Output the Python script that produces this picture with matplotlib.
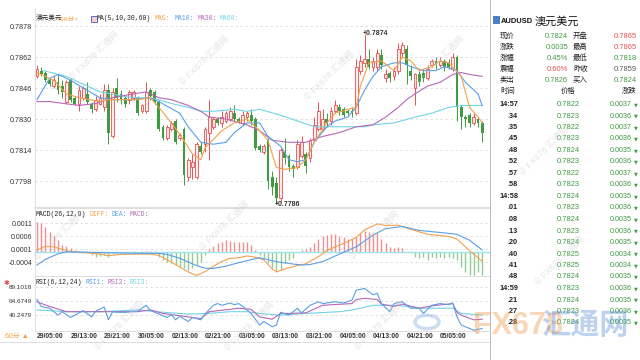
import numpy as np
import matplotlib
matplotlib.use('Agg')
import matplotlib.pyplot as plt
from matplotlib.patches import Rectangle, Circle

plt.rcParams['font.family'] = ['Liberation Sans', 'Noto Sans CJK SC', 'DejaVu Sans']

# ---- candles (60 min AUDUSD) ----
opens = [.7852, .7855, .7854, .7850, .7847, .7849, .7847, .7839, .7850, .7841,
         .7838, .7841, .7843, .7838, .7835, .7838, .7836, .7845, .7821, .7846,
         .7843, .7841, .7840, .7841, .7841, .7834, .7834, .7845, .7844, .7839,
         .7826, .7820, .7825, .7829, .7820, .7825, .7800, .7805, .7800, .7816,
         .7817, .7823, .7826, .7830, .7828, .7829, .7830, .7833, .7830, .7828,
         .7831, .7832, .7830, .7816, .7813, .7819, .7800, .7797, .7789, .7813,
         .7811, .7806, .7805, .7811, .7812, .7810, .7819, .7825, .7825, .7830,
         .7829, .7834, .7836, .7835, .7834, .7834, .7833, .7855, .7859, .7861,
         .7857, .7857, .7863, .7851, .7854, .7852, .7855, .7864, .7866, .7855,
         .7846, .7853, .7854, .7851, .7858, .7860, .7858, .7860, .7859, .7856,
         .7862, .7836, .7831, .7832, .7828, .7830, .7828]
highs = [.7858, .7857, .7855, .7851, .7852, .7853, .7850, .7850, .7851, .7842,
         .7847, .7847, .7849, .7839, .7842, .7843, .7848, .7848, .7846, .7851,
         .7845, .7842, .7845, .7845, .7842, .7838, .7849, .7846, .7845, .7840,
         .7827, .7827, .7829, .7830, .7823, .7826, .7810, .7812, .7818, .7818,
         .7826, .7840, .7831, .7831, .7834, .7834, .7836, .7837, .7831, .7834,
         .7834, .7835, .7831, .7817, .7817, .7820, .7803, .7800, .7815, .7820,
         .7812, .7807, .7819, .7821, .7813, .7820, .7831, .7839, .7835, .7833,
         .7836, .7840, .7838, .7836, .7835, .7836, .7861, .7863, .7874, .7866,
         .7862, .7866, .7866, .7856, .7855, .7857, .7869, .7870, .7868, .7858,
         .7854, .7855, .7856, .7858, .7861, .7862, .7862, .7861, .7861, .7864,
         .7863, .7837, .7832, .7833, .7833, .7831, .7829]
lows = [.7851, .7852, .7849, .7847, .7846, .7843, .7841, .7838, .7839, .7837,
        .7834, .7840, .7838, .7833, .7834, .7837, .7834, .7817, .7820, .7839,
        .7838, .7836, .7838, .7840, .7832, .7833, .7833, .7840, .7838, .7824,
        .7819, .7819, .7824, .7817, .7819, .7796, .7798, .7799, .7799, .7812,
        .7813, .7809, .7825, .7827, .7826, .7828, .7829, .7829, .7828, .7827,
        .7829, .7827, .7814, .7813, .7812, .7794, .7791, .7786, .7787, .7807,
        .7803, .7800, .7804, .7810, .7802, .7808, .7818, .7824, .7824, .7826,
        .7827, .7833, .7832, .7831, .7832, .7831, .7832, .7853, .7857, .7856,
        .7855, .7855, .7856, .7849, .7849, .7850, .7853, .7862, .7848, .7850,
        .7837, .7847, .7849, .7850, .7857, .7856, .7857, .7855, .7856, .7855,
        .7829, .7825, .7826, .7826, .7827, .7826, .7818]
closes = [.7856, .7853, .7850, .7848, .7850, .7845, .7844, .7849, .7840, .7838,
          .7845, .7846, .7839, .7835, .7840, .7841, .7845, .7823, .7844, .7841,
          .7840, .7838, .7844, .7844, .7833, .7837, .7844, .7842, .7839, .7825,
          .7820, .7826, .7828, .7818, .7822, .7801, .7809, .7808, .7817, .7813,
          .7825, .7831, .7830, .7828, .7831, .7833, .7834, .7830, .7829, .7832,
          .7833, .7829, .7815, .7814, .7816, .7798, .7795, .7789, .7814, .7810,
          .7805, .7804, .7817, .7818, .7806, .7819, .7827, .7834, .7830, .7828,
          .7834, .7837, .7834, .7832, .7833, .7833, .7857, .7860, .7861, .7857,
          .7860, .7864, .7858, .7853, .7851, .7855, .7866, .7868, .7858, .7852,
          .7853, .7849, .7851, .7856, .7860, .7858, .7860, .7857, .7857, .7862,
          .7836, .7831, .7830, .7828, .7831, .7828, .7823]

# moving averages (candle index, value)
ma5_x = [0, 4, 7, 10, 15, 17, 20, 24, 27, 29, 32, 34, 37, 39, 40, 44, 47, 50, 53, 55,
         57, 59, 62, 64, 66, 69, 71, 74, 76, 77, 79, 82, 85, 87, 89, 91, 94, 96, 98,
         101, 103, 105, 106]
ma5_y = [.7854, .7850, .7843, .7841, .7839, .7840, .7840, .7840, .7841, .7836, .7828,
         .7822, .7812, .7809, .7815, .7824, .7828, .7830, .7824, .7819, .7805, .7804,
         .7805, .7809, .7818, .7828, .7833, .7835, .7836, .7847, .7859, .7860, .7855,
         .7862, .7860, .7855, .7857, .7860, .7859, .7852, .7836, .7831, .7828]
ma10_x = [0, 3, 5, 8, 11, 15, 18, 23, 27, 29, 34, 36, 39, 42, 45, 47, 50, 53, 55, 58,
          60, 62, 64, 66, 69, 71, 74, 76, 78, 80, 82, 85, 87, 89, 92, 95, 97, 100,
          102, 105, 106]
ma10_y = [.7840, .7851, .7853, .7850, .7846, .7841, .7840, .7840, .7841, .7839, .7833,
          .7826, .7818, .7817, .7818, .7823, .7828, .7828, .7821, .7816, .7809, .7808,
          .7809, .7818, .7826, .7829, .7831, .7836, .7845, .7852, .7857, .7859, .7859,
          .7857, .7855, .7855, .7857, .7855, .7849, .7843, .7837]
ma30_x = [0, 3, 10, 14, 18, 23, 26, 29, 32, 36, 39, 41, 45, 50, 53, 56, 60, 64, 68,
          72, 76, 80, 83, 86, 88, 90, 93, 96, 99, 101, 103, 106]
ma30_y = [.7839, .7839, .7837, .7838, .7841, .7843, .7844, .7841, .7840, .7837, .7834,
          .7831, .7830, .7827, .7824, .7819, .7818, .7818, .7821, .7823, .7826, .7827,
          .7831, .7836, .7840, .7843, .7847, .7849, .7853, .7854, .7853, .7852]
ma60_x = [1.5, 7, 11, 15, 20, 23, 26, 29, 32, 36, 39, 42, 47, 50, 53, 58, 62, 66, 70,
          74, 78, 80, 85, 90, 94, 98, 101, 106]
ma60_y = [.7855, .7852, .7848, .7844, .7842, .7841, .7841, .7840, .7838, .7836, .7834,
          .7834, .7835, .7834, .7835, .7832, .7829, .7826, .7826, .7826, .7826, .7827,
          .7828, .7831, .7833, .7836, .7837, .7837]

# MACD (units of 0.0001)
macd_hist = [11.6, 11.0, 9.7, 7.8, 6.1, 4.6, 2.7, 2.3, 1.4, 0.8,
             0.5, 0.5, 0.3, -1.2, -1.8, -1.5, -1.2, -1.8, -0.5, -0.3,
             -0.1, -0.3, -0.1, 0.3, 0.1, 0.4, 0.5, 0.5, 0.4, -1.8,
             -3.1, -3.7, -4.4, -5.0, -5.4, -6.3, -6.9, -6.3, -5.0, -3.7,
             -1.2, 1.0, 2.3, 3.3, 4.0, 4.6, 4.4, 4.0, 3.8, 4.0,
             4.0, 2.7, 0.8, -1.2, -2.4, -4.4, -6.3, -7.6, -6.9, -4.4,
             -3.1, -2.4, 0.1, 0.8, 1.0, 2.0, 3.6, 4.9, 6.1, 6.5,
             6.9, 6.9, 6.1, 5.6, 4.9, 4.9, 5.6, 7.4, 8.2, 7.8,
             7.2, 7.2, 4.9, 3.3, 2.0, 1.4, 1.8, 1.4, -0.1, -0.5,
             -1.8, -2.4, -1.8, -3.1, -1.8, -2.4, -1.8, -2.4, -1.8, -2.4,
             -3.1, -5.6, -7.6, -8.8, -8.8, -7.6, -8.8]
dif_x = [0, 2, 4, 6, 8, 10, 12, 15, 17, 20, 24, 27, 29, 31, 33, 36, 38, 40, 42, 44,
         46, 48, 50, 52, 54, 56, 57, 60, 62, 64, 67, 69, 71, 73, 76, 78, 81, 83, 86,
         89, 93, 98, 100, 103, 105, 106]
dif_y = [0.8, 2.2, 2.0, 1.0, 0.2, -0.1, -0.3, -0.8, -1.4, -0.9, -0.8, -0.8, -1.3,
         -3.0, -4.8, -7.6, -9.0, -7.5, -5.5, -3.6, -2.4, -2.2, -1.5, -2.0, -3.0,
         -6.5, -7.6, -6.0, -5.2, -4.5, -1.8, 0.5, 2.0, 3.3, 5.6, 8.5, 10.8, 10.2,
         10.3, 8.7, 6.8, 6.0, 5.0, 0.5, -2.2, -3.6]
dea_x = [0, 2, 5, 7, 12, 18, 24, 29, 31, 34, 38, 40, 42, 45, 48, 50, 53, 57, 60, 63,
         65, 68, 72, 76, 80, 83, 87, 91, 96, 100, 103, 106]
dea_y = [-5.0, -2.8, -0.7, 0.1, -0.1, -0.3, -0.5, -0.5, -0.9, -2.4, -5.2, -6.2,
         -6.3, -5.4, -4.1, -3.3, -2.2, -3.7, -4.4, -5.0, -4.8, -3.7, -0.8, 2.0, 6.5,
         9.0, 9.8, 8.3, 7.5, 6.8, 4.5, 0.8]

# RSI(6,12,24)
rsi1_x = [0, 1, 3, 5, 6, 8, 10, 11, 13, 14, 16, 17, 18, 19, 21, 24, 26, 27, 29, 31,
          32, 33, 34, 36, 37, 39, 40, 42, 43, 44, 46, 47, 48, 49, 51, 53, 54, 56, 57,
          58, 60, 62, 63, 65, 67, 68, 71, 73, 75, 76, 78, 80, 81, 82, 84, 85, 87, 89,
          91, 92, 94, 96, 98, 99, 100, 101, 104, 106]
rsi1_y = [67, 55, 52, 40, 46, 36, 44, 48, 37, 47, 54, 32, 46, 45, 45, 47, 57, 48, 42,
          36, 41, 32, 38, 29, 36, 32, 42, 57, 60, 57, 61, 58, 60, 55, 43, 23, 29, 20,
          23, 45, 40, 52, 44, 57, 63, 60, 63, 61, 66, 83, 86, 75, 78, 60, 46, 60, 63,
          52, 52, 43, 57, 60, 58, 61, 37, 23, 14, 17]
rsi2_x = [0, 3, 7, 11, 15, 18, 24, 27, 30, 33, 36, 39, 41, 46, 48, 51, 53, 56, 58, 60,
          64, 68, 75, 76, 78, 81, 82, 85, 87, 91, 94, 99, 100, 101, 104, 106]
rsi2_y = [63, 55, 46, 46, 46, 46, 46, 49, 43, 40, 37, 34, 46, 50, 52, 50, 37, 33, 43,
          43, 44, 57, 60, 67, 69, 67, 59, 55, 59, 52, 56, 60, 45, 40, 32, 33]
rsi3_x = [0, 7, 15, 24, 30, 36, 41, 46, 50, 53, 58, 64, 72, 75, 77, 80, 86, 91, 99,
          101, 106]
rsi3_y = [49, 46, 46, 49, 45, 42, 43, 46, 46, 43, 40, 43, 46, 49, 52, 57, 57, 52, 52,
          43, 40]

time_labels = ['29/05:00', '29/13:00', '29/21:00', '30/05:00', '02/13:00', '02/21:00',
               '03/05:00', '03/13:00', '03/21:00', '04/05:00', '04/13:00', '04/21:00',
               '05/05:00']
price_ticks = [0.7878, 0.7862, 0.7846, 0.7830, 0.7814, 0.7798]
macd_ticks = [11, 6, 1, -4]
rsi_ticks = [89.1018, 64.6749, 40.2479]

quote_rows = [('现价', '0.7824', '开盘', '0.7865'),
              ('涨跌', '0.0035', '最高', '0.7865'),
              ('涨幅', '0.45%', '最低', '0.7818'),
              ('震幅', '0.60%', '昨收', '0.7859'),
              ('卖出', '0.7826', '买入', '0.7824')]
tick_times = ['14:57', '.34', '.35', '.45', '.48', '.52', '.57', '.58', '14:58', '.01',
              '.08', '.13', '.20', '.40', '.41', '.48', '14:59', '.21', '.27', '.28']
tick_prices = ['0.7822', '0.7823', '0.7822', '0.7823', '0.7824', '0.7823', '0.7822',
               '0.7823', '0.7824', '0.7823', '0.7824', '0.7823', '0.7824', '0.7825',
               '0.7825', '0.7824', '0.7823', '0.7824', '0.7823', '0.7824']
tick_chg = ['0.0037', '0.0036', '0.0037', '0.0036', '0.0035', '0.0036', '0.0037',
            '0.0036', '0.0035', '0.0036', '0.0035', '0.0036', '0.0035', '0.0034',
            '0.0034', '0.0035', '0.0036', '0.0035', '0.0036', '0.0035']

RED = '#e8504f'
GREEN = '#3f9b3f'
C_MA5 = '#f4a04c'
C_MA10 = '#5a9fe6'
C_MA30 = '#b867b8'
C_MA60 = '#72d3e6'
GRID = '#dcdcdc'
W, H = 640, 360
XL = (-0.476, 107.86)

fig = plt.figure(figsize=(6.4, 3.6), dpi=100)


def box(x0, y0, x1, y1):
    return [x0 / W, 1 - y1 / H, (x1 - x0) / W, (y1 - y0) / H]


def ftext(x, y, s, **kw):
    kw.setdefault('va', 'center')
    fig.text(x / W, 1 - y / H, s, **kw)


def style(ax, ticks, labels, fs):
    ax.set_xlim(*XL)
    ax.set_xticks([])
    ax.set_yticks(ticks)
    ax.set_yticklabels(labels, fontsize=fs, color='#333333')
    ax.tick_params(axis='y', length=0, pad=2)
    for t in ticks:
        ax.axhline(t, color=GRID, lw=0.6, ls=(0, (3, 3)), zorder=0)
    for s in ax.spines.values():
        s.set_color('#d8d8d8')
        s.set_linewidth(0.6)
    ax.spines['right'].set_visible(False)


# ---- main candle panel ----
ax = fig.add_axes(box(35, 8, 490, 207))
ax.set_ylim(0.77846, 0.78873)
style(ax, price_ticks, ['%.4f' % p for p in price_ticks], 5.2)
ax.spines['top'].set_visible(False)

o, h, l, c = (np.array(a) for a in (opens, highs, lows, closes))
idx = np.arange(len(o))
up = c >= o
ax.vlines(idx, l, h, colors=np.where(up, RED, GREEN), lw=0.7, zorder=2)
lo = np.minimum(o, c)
hh = np.maximum(np.abs(c - o), 0.00002)
ax.bar(idx[up], hh[up], 0.7, bottom=lo[up], facecolor='#fdeaea', edgecolor=RED,
       linewidth=0.6, zorder=3)
ax.bar(idx[~up], hh[~up], 0.7, bottom=lo[~up], color=GREEN, linewidth=0, zorder=3)

for xs, ys, col in ((ma60_x, ma60_y, C_MA60), (ma30_x, ma30_y, C_MA30),
                    (ma10_x, ma10_y, C_MA10), (ma5_x, ma5_y, C_MA5)):
    ax.plot(xs, ys, color=col, lw=0.8, zorder=4)

imax = int(np.argmax(h))
imin = int(np.argmin(l))
ax.text(imax - 0.4, h[imax], '+%.4f' % h[imax], fontsize=5, fontweight='bold',
        color='#333333', va='center', ha='left', zorder=5)
ax.text(imin - 0.4, l[imin], '+%.4f' % l[imin], fontsize=5, fontweight='bold',
        color='#333333', va='center', ha='left', zorder=5)

mono = ['Liberation Mono', 'Noto Sans CJK SC']
ftext(36, 19, '澳元美元', fontsize=4.8, family=mono, color='#222222')
ftext(57, 19, '<60分>', fontsize=4.6, family=mono, color='#f0a040')
fig.patches.append(Rectangle((91 / W, 1 - 22 / H), 6 / W, 6 / H, transform=fig.transFigure,
                             facecolor='#f6d0d0', edgecolor='#4060c0', lw=0.6))
ftext(97, 19, 'MA(5,10,30,60)', fontsize=4.7, family=mono, color='#222222')
ftext(155, 19, 'MA5:', fontsize=4.7, family=mono, color=C_MA5)
ftext(175, 19, 'MA10:', fontsize=4.7, family=mono, color=C_MA10)
ftext(198, 19, 'MA30:', fontsize=4.7, family=mono, color=C_MA30)
ftext(220, 19, 'MA60:', fontsize=4.7, family=mono, color=C_MA60)

# ---- MACD panel ----
axm = fig.add_axes(box(35, 208, 490, 276))
axm.set_ylim(-9.2, 16.9)
style(axm, macd_ticks, ['%.4f' % (t / 1e4) for t in macd_ticks], 5)
mh = np.array(macd_hist)
axm.vlines(idx, 0, mh, colors=np.where(mh >= 0, '#ef8f8f', '#93cd93'), lw=1.0, zorder=2)
axm.axhline(0, color='#9fe3ef', lw=1.0, zorder=3)
axm.plot(dif_x, dif_y, color=C_MA5, lw=0.8, zorder=4)
axm.plot(dea_x, dea_y, color=C_MA10, lw=0.8, zorder=4)
ftext(36, 215, 'MACD(26,12,9)', fontsize=4.7, family=mono, color='#222222')
ftext(89, 215, 'DIFF:', fontsize=4.7, family=mono, color=C_MA5)
ftext(111, 215, 'DEA:', fontsize=4.7, family=mono, color=C_MA10)
ftext(130, 215, 'MACD:', fontsize=4.7, family=mono, color=C_MA30)

# ---- RSI panel ----
axr = fig.add_axes(box(35, 276, 490, 331))
axr.set_ylim(12.7, 107.5)
style(axr, rsi_ticks, ['%.4f' % t for t in rsi_ticks], 4.6)
axr.plot(rsi3_x, rsi3_y, color=C_MA60, lw=0.8)
axr.plot(rsi2_x, rsi2_y, color=C_MA30, lw=0.8)
axr.plot(rsi1_x, rsi1_y, color=C_MA10, lw=0.8)
ftext(36, 282, 'RSI(6,12,24)', fontsize=4.7, family=mono, color='#222222')
ftext(85, 282, 'RSI1:', fontsize=4.7, family=mono, color=C_MA10)
ftext(107, 282, 'RSI2:', fontsize=4.7, family=mono, color=C_MA30)
ftext(129, 282, 'RSI3:', fontsize=4.7, family=mono, color=C_MA60)
ftext(4, 283, '✱', fontsize=5, color='#e04040', family=['DejaVu Sans'])

# ---- time axis row ----
axt = fig.add_axes(box(35, 331, 490, 342))
axt.set_xlim(*XL)
axt.set_ylim(0, 1)
axt.axis('off')
for k, lab in enumerate(time_labels):
    axt.text(k * 8, 0.5, lab, fontsize=4.9, fontweight='bold', color='#333333',
             ha='left', va='center')
fig.add_artist(plt.Line2D([0, 490 / W], [1 - 342 / H] * 2, color='#d8d8d8', lw=0.6))
ftext(5, 336.5, '60分 ▲', fontsize=5, color='#f0a040')

# ---- quote panel on the right ----
fig.add_artist(plt.Line2D([490 / W] * 2, [0, 1], color='#bbbbbb', lw=0.7))
fig.patches.append(Rectangle((493 / W, 1 - 23 / H), 6 / W, 7 / H, transform=fig.transFigure,
                             facecolor='#4a7fd0', edgecolor='#2a5fb0', lw=0.5))
ftext(501, 21.5, 'AUDUSD', fontsize=5.4, fontweight='bold', color='#111111')
ftext(535, 21, '澳元美元', fontsize=8, color='#111111')

val1_col = [GREEN, GREEN, GREEN, RED, GREEN]
val2_col = [RED, RED, GREEN, '#555555', GREEN]
for r, (a, b, cc, d) in enumerate(quote_rows):
    y = 36 + r * 11.2
    ftext(500, y, a, fontsize=5.3, color='#222222')
    ftext(568, y, b, fontsize=5.4, color=val1_col[r], ha='right')
    ftext(573, y, cc, fontsize=5.3, color='#222222')
    ftext(637, y, d, fontsize=5.4, color=val2_col[r], ha='right')

ftext(500, 91, '时间', fontsize=5.3, color='#222222')
ftext(568, 91, '价格', fontsize=5.3, color='#222222', ha='center')
ftext(637, 91, '涨跌', fontsize=5.3, color='#222222', ha='right')
for r in range(len(tick_times)):
    y = 104.5 + r * 11.5
    ftext(518, y, tick_times[r], fontsize=5.2, fontweight='bold', color='#222222', ha='right')
    ftext(568, y, tick_prices[r], fontsize=5.4, color=GREEN, ha='center')
    ftext(632, y, tick_chg[r], fontsize=5.2, color=GREEN, ha='right')
    ftext(636, y, '▼', fontsize=3.5, color=GREEN, ha='center', family=['DejaVu Sans'])

# ---- watermarks ----
for (x, y) in [(95, 55), (205, 60), (330, 75), (440, 60), (60, 235), (225, 225),
               (375, 235), (120, 325), (250, 326), (380, 325), (545, 150), (560, 260)]:
    ftext(x, y, '© FX678 汇通网', fontsize=6.5, color='#c8c8c8', alpha=0.35,
          rotation=45, ha='center', fontweight='bold')
fig.patches.append(Circle((427 / W, 1 - 322 / H), 12 / W, transform=fig.transFigure,
                          facecolor='none', edgecolor='#6d9bd8', lw=2.5, alpha=0.35))
ftext(473, 326, 'FX678', fontsize=22, color='#f39a4c', alpha=0.4, fontweight='bold')
ftext(541, 326, '汇通网', fontsize=21, color='#5b8fd6', alpha=0.4, fontweight='bold')

fig.savefig('out.png', dpi=100)
